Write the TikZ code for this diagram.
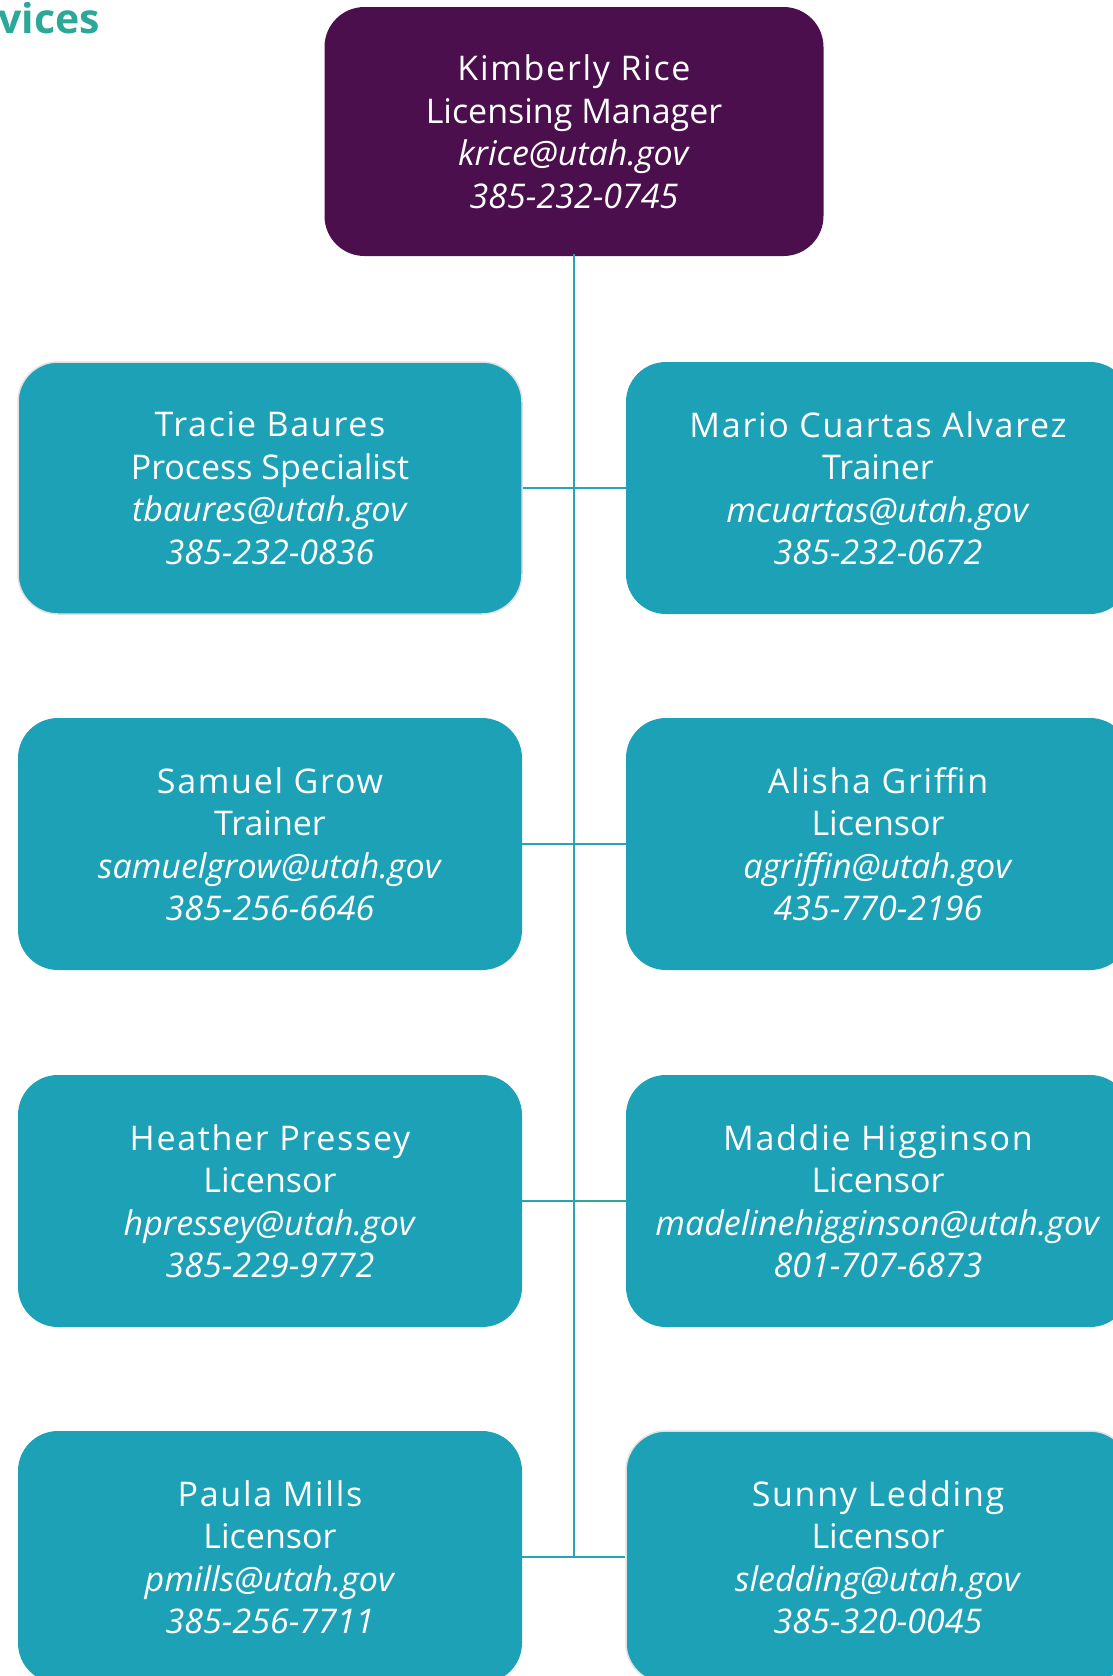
\documentclass[tikz,border=0pt]{standalone}
\usepackage{fontspec}
\setmainfont{Open Sans}
\newfontfamily\namefont[LetterSpace=5]{Open Sans}
\definecolor{tealbox}{RGB}{29,161,183}
\definecolor{purp}{RGB}{75,15,78}
\definecolor{linec}{RGB}{42,163,183}
\definecolor{lineg}{RGB}{48,168,146}
\definecolor{hdr}{RGB}{43,168,152}
\definecolor{edgec}{RGB}{225,225,225}
\newcommand{\pname}[1]{{\namefont #1}}
\begin{document}
\begin{tikzpicture}[x=1pt,y=-1pt,
  card/.style={rounded corners=40pt, minimum width=504pt, minimum height=252pt,
    fill=tealbox, text=white, align=center, inner sep=0pt,
    font=\fontsize{34}{42.5}\selectfont},
  edged/.style={draw=edgec, line width=1.5pt},
  conn/.style={draw=linec, line width=2pt}]
\useasboundingbox (0,0) rectangle (1112,1676);
\node[anchor=base west, text=hdr, inner sep=0pt,
  font=\fontsize{41}{41}\selectfont\bfseries] (title) at (-2,33) {vices};
\node[card, fill=purp, minimum width=499pt, minimum height=249pt] (kr) at (574,131.5)
  {\pname{Kimberly Rice}\\Licensing Manager\\\textit{krice@utah.gov}\\\textit{385-232-0745}};
\node[card, edged] (tb) at (270,488)
  {\pname{Tracie Baures}\\Process Specialist\\\textit{tbaures@utah.gov}\\\textit{385-232-0836}};
\node[card] (mc) at (878,488)
  {\pname{Mario Cuartas Alvarez}\\Trainer\\\textit{mcuartas@utah.gov}\\\textit{385-232-0672}};
\node[card] (sg) at (270,844)
  {\pname{Samuel Grow}\\Trainer\\\textit{samuelgrow@utah.gov}\\\textit{385-256-6646}};
\node[card] (ag) at (878,844)
  {\pname{Alisha Griffin}\\Licensor\\\textit{agriffin@utah.gov}\\\textit{435-770-2196}};
\node[card] (hp) at (270,1201)
  {\pname{Heather Pressey}\\Licensor\\\textit{hpressey@utah.gov}\\\textit{385-229-9772}};
\node[card] (mh) at (878,1201)
  {\pname{Maddie Higginson}\\Licensor\\\textit{madelinehigginson@utah.gov}\\\textit{801-707-6873}};
\node[card] (pm) at (270,1557)
  {\pname{Paula Mills}\\Licensor\\\textit{pmills@utah.gov}\\\textit{385-256-7711}};
\node[card, edged] (sl) at (878,1557)
  {\pname{Sunny Ledding}\\Licensor\\\textit{sledding@utah.gov}\\\textit{385-320-0045}};
\coordinate (top) at ([yshift=2pt]kr.south);
\coordinate (bot) at (top |- pm.east);
\draw[conn] (top) -- (bot);
\draw[conn] (tb.east) -- (mc.west);
\draw[conn] (sg.east) -- (ag.west);
\draw[conn] (hp.east) -- (top |- hp.east);
\draw[conn, draw=lineg] (top |- mh.west) -- (mh.west);
\draw[conn] (pm.east) -- (sl.west);
\end{tikzpicture}
\end{document}
